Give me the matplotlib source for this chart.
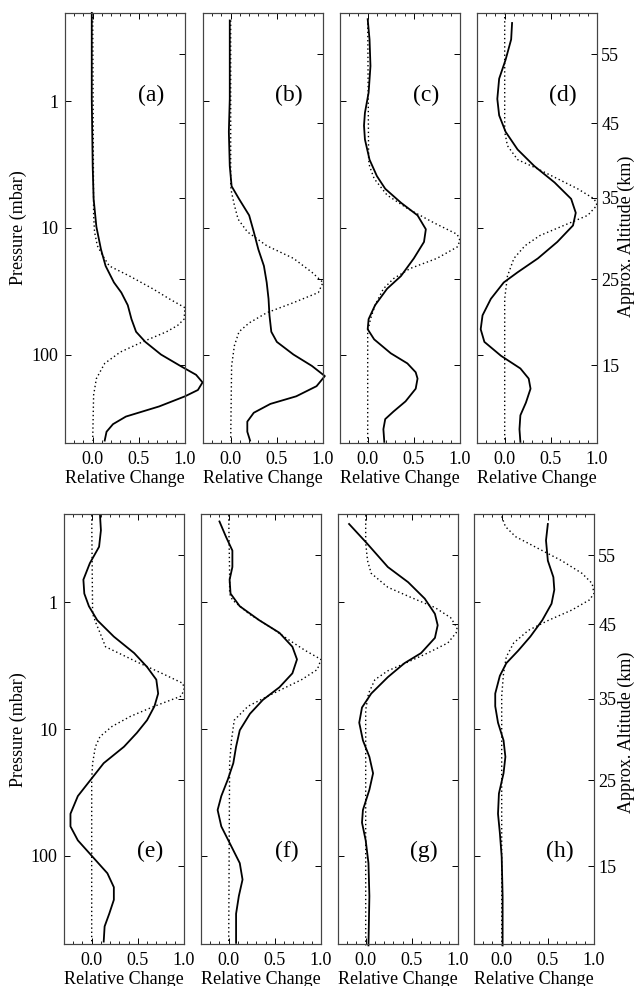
import numpy as np
import matplotlib.pyplot as plt
from matplotlib.ticker import MultipleLocator, NullLocator

plt.rcParams['font.family'] = ['Liberation Serif', 'DejaVu Serif']

# Profiles: log10 pressure (mbar) and relative change; solid and dotted curve per panel
a_solid_logp = [-0.70, -0.02, 0.51, 0.77, 0.99, 1.17, 1.30, 1.43, 1.51, 1.61, 1.72, 1.82, 1.90,
                2.00, 2.09, 2.16, 2.22, 2.28, 2.33, 2.41, 2.49, 2.55, 2.61, 2.68]
a_solid = [-0.01, -0.01, 0.0, 0.01, 0.04, 0.09, 0.14, 0.23, 0.31, 0.38, 0.42, 0.47, 0.57,
           0.74, 0.95, 1.12, 1.19, 1.14, 1.00, 0.72, 0.36, 0.22, 0.15, 0.13]
a_dot_logp = [-0.70, 0.90, 1.03, 1.14, 1.22, 1.30, 1.38, 1.48, 1.56, 1.63, 1.72, 1.77, 1.82,
              1.90, 1.98, 2.07, 2.19, 2.32, 2.68]
a_dot = [0.0, 0.01, 0.02, 0.05, 0.11, 0.18, 0.40, 0.65, 0.83, 1.0, 0.99, 0.92, 0.80,
         0.54, 0.30, 0.13, 0.04, 0.01, 0.0]

b_solid_logp = [-0.64, -0.02, 0.24, 0.51, 0.67, 0.77, 0.90, 1.03, 1.17, 1.30, 1.43, 1.56, 1.69,
                1.82, 1.90, 2.00, 2.09, 2.17, 2.25, 2.33, 2.39, 2.46, 2.53, 2.61, 2.68]
b_solid = [-0.01, -0.01, -0.02, -0.01, 0.01, 0.09, 0.20, 0.25, 0.30, 0.36, 0.39, 0.41, 0.42,
           0.44, 0.50, 0.68, 0.88, 1.02, 0.93, 0.71, 0.43, 0.25, 0.18, 0.18, 0.21]
b_dot_logp = [-0.64, 0.67, 0.72, 0.82, 0.93, 1.03, 1.14, 1.24, 1.35, 1.43, 1.51, 1.59, 1.67,
              1.75, 1.82, 1.93, 2.09, 2.68]
b_dot = [0.0, 0.0, 0.01, 0.04, 0.08, 0.18, 0.39, 0.68, 0.88, 1.0, 0.95, 0.68, 0.39,
         0.20, 0.09, 0.04, 0.01, 0.0]

c_solid_logp = [-0.65, -0.49, -0.28, -0.07, 0.09, 0.19, 0.30, 0.46, 0.59, 0.69, 0.80, 0.90, 1.01,
                1.11, 1.24, 1.38, 1.48, 1.61, 1.72, 1.80, 1.88, 1.99, 2.07, 2.14, 2.19, 2.27,
                2.37, 2.45, 2.51, 2.59, 2.69]
c_solid = [0.0, 0.02, 0.03, 0.01, -0.03, -0.04, -0.03, 0.02, 0.10, 0.19, 0.36, 0.54, 0.63,
           0.61, 0.50, 0.36, 0.21, 0.08, 0.01, 0.0, 0.07, 0.25, 0.43, 0.52, 0.54, 0.52,
           0.41, 0.28, 0.19, 0.17, 0.18]
c_dot_logp = [-0.65, 0.46, 0.51, 0.61, 0.74, 0.85, 0.96, 1.05, 1.10, 1.15, 1.24, 1.32, 1.40,
              1.48, 1.61, 1.72, 1.82, 2.69]
c_dot = [0.0, 0.01, 0.02, 0.07, 0.21, 0.44, 0.72, 0.97, 1.0, 0.97, 0.75, 0.46, 0.28,
         0.17, 0.08, 0.03, 0.0, 0.0]

d_solid_logp = [-0.62, -0.49, -0.33, -0.18, -0.02, 0.11, 0.24, 0.38, 0.51, 0.64, 0.77, 0.88, 0.98,
                1.11, 1.24, 1.35, 1.43, 1.56, 1.69, 1.80, 1.90, 2.01, 2.11, 2.19, 2.27, 2.38,
                2.48, 2.59, 2.69]
d_solid = [0.08, 0.07, 0.01, -0.06, -0.08, -0.06, 0.01, 0.14, 0.32, 0.54, 0.72, 0.77, 0.74,
           0.57, 0.36, 0.14, -0.01, -0.15, -0.24, -0.26, -0.22, -0.04, 0.17, 0.26, 0.28, 0.23,
           0.17, 0.16, 0.17]
d_dot_logp = [-0.70, 0.24, 0.35, 0.46, 0.53, 0.61, 0.69, 0.77, 0.82, 0.90, 0.98, 1.06, 1.14,
              1.24, 1.38, 1.56, 2.69]
d_dot = [0.0, 0.0, 0.03, 0.14, 0.35, 0.57, 0.79, 0.97, 1.0, 0.90, 0.64, 0.38, 0.22,
         0.10, 0.03, 0.0, 0.0]

e_solid_logp = [-0.69, -0.57, -0.44, -0.31, -0.18, -0.07, 0.03, 0.14, 0.27, 0.40, 0.51, 0.61, 0.72,
                0.82, 0.93, 1.03, 1.14, 1.27, 1.40, 1.53, 1.67, 1.77, 1.88, 2.01, 2.14, 2.25,
                2.35, 2.46, 2.56, 2.68]
e_solid = [0.09, 0.10, 0.08, -0.02, -0.09, -0.08, -0.03, 0.06, 0.24, 0.46, 0.60, 0.70, 0.72,
           0.68, 0.60, 0.49, 0.35, 0.13, -0.01, -0.15, -0.23, -0.23, -0.15, 0.01, 0.17, 0.24,
           0.24, 0.19, 0.14, 0.13]
e_dot_logp = [-0.69, 0.09, 0.17, 0.24, 0.35, 0.47, 0.56, 0.64, 0.69, 0.74, 0.82, 0.90, 0.98,
              1.06, 1.14, 1.27, 1.40, 2.68]
e_dot = [0.0, 0.01, 0.05, 0.09, 0.15, 0.49, 0.76, 0.99, 1.0, 0.97, 0.68, 0.42, 0.22,
         0.09, 0.04, 0.01, 0.0, 0.0]

f_solid_logp = [-0.64, -0.52, -0.41, -0.28, -0.18, -0.07, 0.03, 0.14, 0.24, 0.35, 0.45, 0.56, 0.67,
                0.77, 0.88, 1.01, 1.14, 1.27, 1.40, 1.53, 1.64, 1.77, 1.90, 2.06, 2.19, 2.32,
                2.46, 2.69]
f_solid = [-0.10, -0.03, 0.04, 0.04, 0.01, 0.02, 0.12, 0.33, 0.55, 0.69, 0.74, 0.69, 0.55,
           0.37, 0.23, 0.12, 0.08, 0.05, -0.01, -0.08, -0.12, -0.08, 0.01, 0.12, 0.15, 0.11,
           0.08, 0.08]
f_dot_logp = [-0.69, -0.23, -0.07, -0.02, 0.09, 0.19, 0.30, 0.38, 0.45, 0.53, 0.61, 0.72, 0.82,
              0.93, 1.09, 1.27, 2.69]
f_dot = [0.0, 0.01, 0.01, 0.04, 0.22, 0.44, 0.66, 0.83, 1.0, 0.96, 0.79, 0.48, 0.21,
         0.06, 0.03, 0.01, 0.0]

g_solid_logp = [-0.62, -0.47, -0.28, -0.16, -0.03, 0.09, 0.18, 0.28, 0.40, 0.48, 0.59, 0.72, 0.83,
                0.95, 1.09, 1.22, 1.35, 1.48, 1.64, 1.74, 1.88, 2.06, 2.32, 2.71]
g_solid = [-0.18, 0.01, 0.24, 0.46, 0.64, 0.75, 0.78, 0.75, 0.60, 0.42, 0.24, 0.06, -0.04,
           -0.07, -0.03, 0.04, 0.08, 0.04, -0.03, -0.04, 0.0, 0.03, 0.04, 0.03]
g_dot_logp = [-0.69, -0.47, -0.33, -0.23, -0.12, -0.04, 0.04, 0.12, 0.20, 0.24, 0.32, 0.40, 0.47,
              0.54, 0.61, 0.72, 0.85, 2.71]
g_dot = [0.0, 0.0, 0.02, 0.06, 0.24, 0.49, 0.75, 0.92, 0.99, 0.98, 0.89, 0.67, 0.46,
         0.24, 0.10, 0.03, 0.0, 0.0]

h_solid_logp = [-0.62, -0.49, -0.33, -0.20, -0.10, 0.01, 0.14, 0.27, 0.38, 0.48, 0.58, 0.72, 0.82,
                0.95, 1.09, 1.22, 1.35, 1.51, 1.67, 1.82, 2.01, 2.32, 2.71]
h_solid = [0.50, 0.48, 0.50, 0.56, 0.57, 0.54, 0.44, 0.31, 0.18, 0.05, -0.02, -0.07, -0.07,
           -0.04, 0.02, 0.04, 0.02, -0.03, -0.04, -0.02, 0.0, 0.01, 0.01]
h_dot_logp = [-0.68, -0.60, -0.52, -0.44, -0.33, -0.23, -0.15, -0.07, -0.02, 0.06, 0.14, 0.22,
              0.32, 0.43, 0.56, 0.74, 2.71]
h_dot = [0.0, 0.04, 0.15, 0.36, 0.65, 0.87, 0.98, 1.0, 0.95, 0.76, 0.51, 0.29,
         0.13, 0.05, 0.02, 0.0, 0.0]

panel_names = ['(a)', '(b)', '(c)', '(d)', '(e)', '(f)', '(g)', '(h)']
solid_logp = [a_solid_logp, b_solid_logp, c_solid_logp, d_solid_logp,
              e_solid_logp, f_solid_logp, g_solid_logp, h_solid_logp]
solid_vals = [a_solid, b_solid, c_solid, d_solid, e_solid, f_solid, g_solid, h_solid]
dot_logp = [a_dot_logp, b_dot_logp, c_dot_logp, d_dot_logp,
            e_dot_logp, f_dot_logp, g_dot_logp, h_dot_logp]
dot_vals = [a_dot, b_dot, c_dot, d_dot, e_dot, f_dot, g_dot, h_dot]

pressure_ticks = [1, 10, 100]
x_ticks = [0.0, 0.5, 1.0]
altitude_km = [15, 25, 35, 45, 55]
altitude_p = [121.1, 25.49, 5.746, 1.491, 0.425]

W, H = 635.0, 986.0
fig = plt.figure(figsize=(W / 100, H / 100), dpi=100)

col_left = [[65, 203, 340, 477], [64, 201, 338, 474]]
row_top = [13, 514]
pw, ph = 120, 430
label_p = [0.9, 92]

for i in range(8):
    r, c = divmod(i, 4)
    x0 = col_left[r][c]
    y0 = row_top[r]
    ax = fig.add_axes([x0 / W, 1 - (y0 + ph) / H, pw / W, ph / H])
    ax.set_yscale('log')
    ax.set_xlim(-0.3, 1.0)
    ax.set_ylim(500, 0.2)

    ax.plot(dot_vals[i], 10 ** np.array(dot_logp[i]), color='black',
            lw=1.0, linestyle=(0, (1, 2)), clip_on=False)
    ax.plot(solid_vals[i], 10 ** np.array(solid_logp[i]), color='black',
            lw=1.3, clip_on=False)

    ax.text(0.63, label_p[r], panel_names[i], fontsize=17, ha='center', va='center')

    ax.set_xticks(x_ticks)
    ax.set_xticklabels(['0.0', '0.5', '1.0'])
    ax.xaxis.set_minor_locator(MultipleLocator(0.1))
    ax.tick_params(axis='x', which='both', direction='in', top=True, bottom=True,
                   labelsize=13, pad=6)
    ax.tick_params(axis='x', which='major', length=4, width=0.7)
    ax.tick_params(axis='x', which='minor', length=2.5, width=0.6)
    ax.set_xlabel('Relative Change', fontsize=13, labelpad=1)

    ax.set_yticks(pressure_ticks)
    ax.yaxis.set_minor_locator(NullLocator())
    ax.tick_params(axis='y', which='major', direction='in', length=4, width=0.7,
                   left=True, right=False, labelsize=13, pad=5)
    if c == 0:
        ax.set_yticklabels(['1', '10', '100'])
    else:
        ax.set_yticklabels([])

    ax2 = ax.twinx()
    ax2.set_yscale('log')
    ax2.set_ylim(500, 0.2)
    ax2.set_yticks(altitude_p)
    ax2.yaxis.set_minor_locator(NullLocator())
    ax2.tick_params(axis='y', direction='in', length=4, width=0.7,
                    labelsize=13, pad=3)
    if c == 3:
        ax2.set_yticklabels([str(k) for k in altitude_km])
    else:
        ax2.set_yticklabels([])

    for a in (ax, ax2):
        for s in a.spines.values():
            s.set_linewidth(0.8)
            s.set_color('#444444')

fig.text(18 / W, 1 - 228 / H, 'Pressure (mbar)', rotation=90, fontsize=13,
         ha='center', va='center')
fig.text(18 / W, 1 - 730 / H, 'Pressure (mbar)', rotation=90, fontsize=13,
         ha='center', va='center')
fig.text(626 / W, 1 - 236 / H, 'Approx. Altitude (km)', rotation=90, fontsize=13,
         ha='center', va='center')
fig.text(626 / W, 1 - 732 / H, 'Approx. Altitude (km)', rotation=90, fontsize=13,
         ha='center', va='center')

fig.savefig('out.png', dpi=100)
